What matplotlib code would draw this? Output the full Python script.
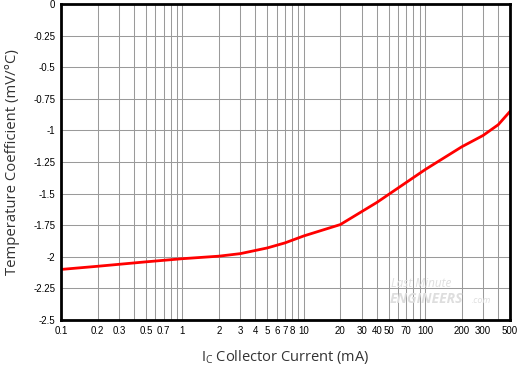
import matplotlib
matplotlib.use("Agg")
import matplotlib.pyplot as plt
from matplotlib.ticker import FixedLocator, NullFormatter, FixedFormatter

current_ma = [0.1, 0.2, 0.5, 1, 2, 3, 5, 7, 10, 20, 40, 100, 200, 300, 400, 500]
temp_coeff = [-2.10, -2.075, -2.04, -2.015, -1.995, -1.975, -1.93, -1.89, -1.835, -1.745, -1.57, -1.31, -1.13, -1.04, -0.955, -0.85]

x_tick_vals = [0.1, 0.2, 0.3, 0.5, 0.7, 1, 2, 3, 4, 5, 6, 7, 8, 10, 20, 30, 40, 50, 70, 100, 200, 300, 500]
x_tick_labels = ["0.1", "0.2", "0.3", "0.5", "0.7", "1", "2", "3", "4", "5", "6", "7", "8", "10",
                 "20", "30", "40", "50", "70", "100", "200", "300", "500"]
x_grid_vals = [m * d for d in [0.1, 1, 10, 100] for m in range(1, 10) if m * d <= 500]
y_tick_vals = [0, -0.25, -0.5, -0.75, -1, -1.25, -1.5, -1.75, -2, -2.25, -2.5]
y_tick_labels = ["0", "-0.25", "-0.5", "-0.75", "-1", "-1.25", "-1.5", "-1.75", "-2", "-2.25", "-2.5"]

fig = plt.figure(figsize=(5.19, 3.69), dpi=100)
ax = fig.add_axes([61/519, 1-320/369, (510-61)/519, (320-4)/369])

ax.set_xscale("log")
ax.set_xlim(0.1, 500)
ax.set_ylim(-2.5, 0)

for xv in x_grid_vals:
    ax.axvline(xv, color="#9a9a9a", lw=0.75, zorder=1)
for yv in y_tick_vals:
    ax.axhline(yv, color="#9a9a9a", lw=0.75, zorder=1)

ax.plot(current_ma, temp_coeff, color="#ff0000", lw=2.0, zorder=3, solid_capstyle="round")

ax.xaxis.set_major_locator(FixedLocator(x_tick_vals))
ax.xaxis.set_major_formatter(FixedFormatter(x_tick_labels))
ax.xaxis.set_minor_locator(FixedLocator([]))
ax.xaxis.set_minor_formatter(NullFormatter())
ax.set_yticks(y_tick_vals)
ax.set_yticklabels(y_tick_labels)

for lab in ax.get_xticklabels() + ax.get_yticklabels():
    lab.set_fontfamily("Liberation Sans")
    lab.set_fontsize(7)
    lab.set_color("black")
ax.tick_params(axis="both", length=0, pad=4)

for s in ax.spines.values():
    s.set_linewidth(2)
    s.set_color("black")
    s.set_zorder(4)

ax.set_ylabel("Temperature Coefficient (mV/°C)", fontfamily="Open Sans", fontsize=10.7,
              color="#333333", labelpad=10)
ax.set_xlabel("I$_\\mathregular{C}$ Collector Current (mA)", fontfamily="Open Sans", fontsize=10.5,
              color="#333333", labelpad=9)

ax.text(0.735, 0.104, "Last Minute", transform=ax.transAxes, fontsize=8.5, color="#dedede",
        style="italic", fontfamily="Open Sans", zorder=2)
ax.text(0.733, 0.055, "ENGINEERS", transform=ax.transAxes, fontsize=10, color="#dedede",
        style="italic", weight="bold", fontfamily="Open Sans", zorder=2)
ax.text(0.915, 0.055, ".com", transform=ax.transAxes, fontsize=6.5, color="#dedede",
        style="italic", fontfamily="Open Sans", zorder=2)

fig.savefig("out.png", dpi=100)
